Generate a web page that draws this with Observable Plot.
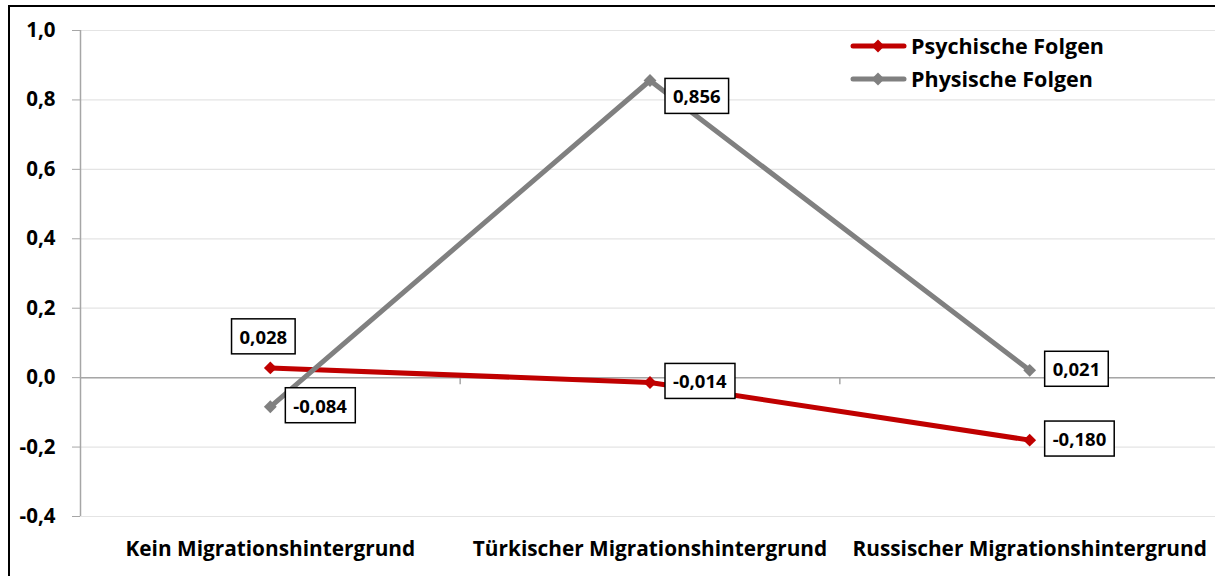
<!DOCTYPE html>
<html><head><meta charset="utf-8">
<script src="https://cdn.jsdelivr.net/npm/d3@7"></script>
<script src="https://cdn.jsdelivr.net/npm/@observablehq/plot@0.6"></script>
<style>
body{margin:0;background:#fff;}
#wrap{position:relative;width:1215px;height:576px;overflow:hidden;font-family:"Open Sans",sans-serif;background:#fff;}
#chart{position:absolute;left:0;top:0;}
#frame{position:absolute;left:8px;top:5px;width:1300px;height:700px;border:2px solid #000;box-sizing:border-box;pointer-events:none;}
#legend{position:absolute;left:848px;top:29px;font-weight:bold;font-size:21.5px;color:#000;}
#legend .row{display:flex;align-items:center;height:33px;}
#legend svg{display:block;margin-right:3px;}
</style>
</head><body>
<div id="wrap"><div id="chart"></div><div id="legend"></div><div id="frame"></div></div>
<script>
const categories = ["Kein Migrationshintergrund", "Türkischer Migrationshintergrund", "Russischer Migrationshintergrund"];
const seriesNames = ["Psychische Folgen", "Physische Folgen"];
const psychischeFolgen = [0.028, -0.014, -0.180];
const physischeFolgen = [-0.084, 0.856, 0.021];
const yTicks = [-0.4, -0.2, 0, 0.2, 0.4, 0.6, 0.8, 1.0];
const seriesColors = ["#c00000", "#808080"];

const loc = d3.formatLocale({decimal: ",", thousands: ".", grouping: [3], currency: ["", "€"], minus: "-"});
const fmt1 = loc.format(".1f");
const fmt3 = loc.format(".3f");

const rows = [];
[psychischeFolgen, physischeFolgen].forEach((vals, s) => {
  vals.forEach((v, i) => rows.push({series: seriesNames[s], i, value: v}));
});

// label placement (style)
const placeOf = d => (d.series === seriesNames[0] && d.i === 0) ? "above"
  : (d.series === seriesNames[1] && d.i === 1) ? "belowRight" : "right";

const X = d => d.i + 0.5;
const labelFont = {fontSize: 18.5, fontWeight: "bold", fill: "#000", ariaDescription: "datalabel", text: d => fmt3(d.value)};

const marks = [
  Plot.gridY(yTicks, {stroke: "#e4e4e4", strokeOpacity: 1, strokeWidth: 1.2}),
  Plot.ruleY([0], {stroke: "#a6a6a6", strokeWidth: 1.5}),
  Plot.ruleX([0], {y1: yTicks[0], y2: yTicks[yTicks.length - 1], stroke: "#a6a6a6", strokeWidth: 1.5}),
  Plot.ruleX([1, 2], {y1: 0, y2: 0, insetBottom: -7, stroke: "#a6a6a6", strokeWidth: 1.5}),
  Plot.axisY({ticks: yTicks, tickFormat: fmt1, tickSize: 8, tickPadding: 17, stroke: "#a6a6a6", fontSize: 20.5, fontWeight: "bold", fill: "#000", label: null}),
  Plot.axisX({ticks: categories.map((c, i) => i + 0.5), tickFormat: d => categories[Math.floor(d)], tickSize: 0, tickPadding: 25, fontSize: 20.8, fontWeight: "bold", fill: "#000", label: null})
];
seriesNames.forEach((s, k) => {
  const data = rows.filter(d => d.series === s);
  marks.push(Plot.line(data, {x: X, y: "value", stroke: seriesColors[k], strokeWidth: 5}));
  marks.push(Plot.dot(data, {x: X, y: "value", symbol: "diamond2", r: 5.8, fill: seriesColors[k], stroke: "none"}));
});
marks.push(Plot.text(rows.filter(d => placeOf(d) === "right"), {...labelFont, x: X, y: "value", textAnchor: "start", dx: 23}));
marks.push(Plot.text(rows.filter(d => placeOf(d) === "belowRight"), {...labelFont, x: X, y: "value", textAnchor: "start", dx: 23, dy: 17}));
marks.push(Plot.text(rows.filter(d => placeOf(d) === "above"), {...labelFont, x: X, y: "value", textAnchor: "middle", dx: -7, dy: -30}));

const chart = Plot.plot({
  width: 1215,
  height: 576,
  marginLeft: 80,
  marginRight: 0,
  marginTop: 30,
  marginBottom: 60,
  style: {fontFamily: "'Open Sans', sans-serif", background: "transparent", overflow: "visible"},
  x: {type: "linear", domain: [0, 3], range: [80, 1219]},
  y: {domain: [yTicks[0], yTicks[yTicks.length - 1]], range: [516, 30]},
  marks
});
document.getElementById("chart").appendChild(chart);

// boxes behind data labels
const ns = "http://www.w3.org/2000/svg";
chart.querySelectorAll('g[aria-description="datalabel"] text').forEach(t => {
  const b = t.getBBox();
  const r = document.createElementNS(ns, "rect");
  const padX = 8, padY = 5;
  r.setAttribute("x", b.x - padX);
  r.setAttribute("y", b.y - padY);
  r.setAttribute("width", b.width + 2 * padX);
  r.setAttribute("height", b.height + 2 * padY);
  r.setAttribute("fill", "#fff");
  r.setAttribute("stroke", "#000");
  r.setAttribute("stroke-width", 1.5);
  if (t.getAttribute("transform")) r.setAttribute("transform", t.getAttribute("transform"));
  t.parentNode.insertBefore(r, t);
});

// legend
const legend = document.getElementById("legend");
seriesNames.forEach((s, k) => {
  const row = document.createElement("div");
  row.className = "row";
  const sv = d3.create("svg").attr("width", 60).attr("height", 20);
  sv.append("line").attr("x1", 5).attr("x2", 56).attr("y1", 10).attr("y2", 10)
    .attr("stroke", seriesColors[k]).attr("stroke-width", 5).attr("stroke-linecap", "round");
  sv.append("path").attr("d", d3.symbol(d3.symbolDiamond2, 5.8 * 5.8 * Math.PI)()).attr("transform", "translate(30,10)").attr("fill", seriesColors[k]);
  row.appendChild(sv.node());
  const span = document.createElement("span");
  span.textContent = s;
  row.appendChild(span);
  legend.appendChild(row);
});
</script>
</body></html>
